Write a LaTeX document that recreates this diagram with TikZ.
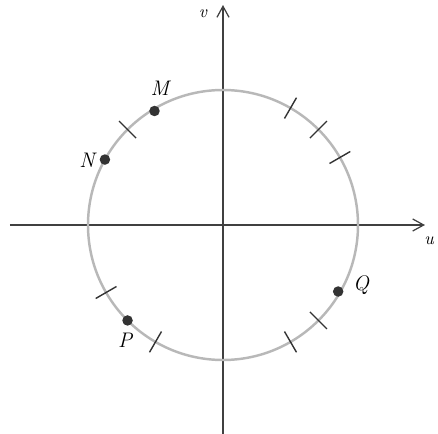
\documentclass[tikz,border=0pt]{standalone}
\usetikzlibrary{arrows.meta}

\begin{document}
\begin{tikzpicture}[
  font=\large,
  axis/.style={draw=black!75, line width=0.7pt, -{Straight Barb[length=2.2mm, width=2.4mm]}},
  ring/.style={draw=black!28, line width=1.4pt},
  tick/.style={draw=black!80, line width=0.8pt},
  dot/.style={circle, fill=black!80, inner sep=0pt, minimum size=2.1mm},
  lbl/.style={font=\large\itshape, inner sep=1pt},
  axlbl/.style={font=\normalsize\itshape, inner sep=1pt},
]
  \useasboundingbox (-4.46,-4.18) rectangle (4.30,4.50);

  % ----- axes -----
  \coordinate (west)  at (-4.26,0);
  \coordinate (east)  at (4.04,0);
  \coordinate (south) at (0,-4.18);
  \coordinate (north) at (0,4.40);
  \draw[axis] (west) -- (east);
  \draw[axis] (south) -- (north);
  \node[axlbl] (u) at (4.12,-0.32) {u};
  \node[axlbl] (v) at (-0.40,4.22) {v};

  % ----- circle and marks -----
  \draw[ring] (0,0) circle (2.7);
  \foreach \a in {30,45,60,135,210,240,300,315}
    \draw[tick] (\a:2.46) -- (\a:2.94);

  % ----- points -----
  \node[dot] (m) at (121:2.66) {};
  \node[dot] (n) at (151:2.7) {};
  \node[dot] (p) at (225:2.7) {};
  \node[dot] (q) at (330:2.66) {};

  \node[lbl] (lm) at (-1.26,2.74) {M};
  \node[lbl] (ln) at (-2.72,1.30) {N};
  \node[lbl] (lp) at (-1.96,-2.30) {P};
  \node[lbl] (lq) at (2.76,-1.20) {Q};
\end{tikzpicture}
\end{document}
